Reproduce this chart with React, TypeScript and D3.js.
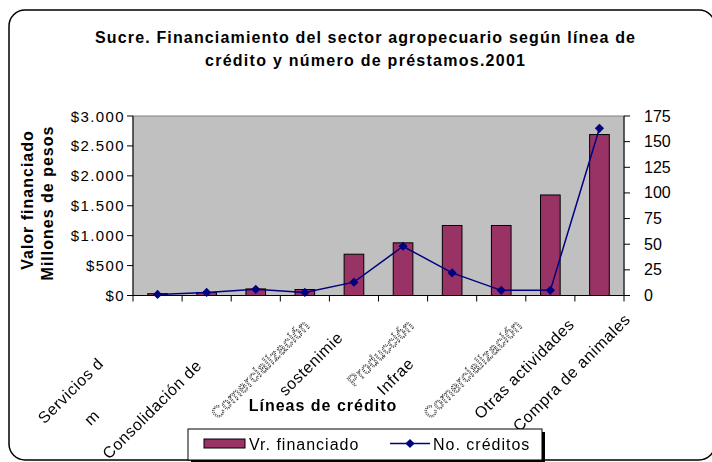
import React from "react";
import * as d3 from "d3";

// ---- data ----
const categories = [
  "Servicios de m",
  "Consolidación de",
  "Comercialización",
  "sostenimiento",
  "Producción",
  "Infraestructura",
  "Comercialización ",
  "Otras líneas",
  "Otras actividades",
  "Compra de animales",
];
const valorFinanciado = [30, 50, 110, 100, 690, 880, 1170, 1170, 1680, 2690];
const noCreditos = [1, 3, 6, 3, 13, 48, 22, 5, 5, 163];
const leftTicks = [0, 500, 1000, 1500, 2000, 2500, 3000];
const rightTicks = [0, 25, 50, 75, 100, 125, 150, 175];

const titleLines = [
  "Sucre. Financiamiento del sector agropecuario según línea de",
  "crédito y número de préstamos.2001",
];
const yTitleLines = ["Valor financiado", "Millones de pesos"];
const xTitle = "Líneas de crédito";
const legendLabels = ["Vr. financiado", "No. créditos"];

// visible (clipped / overprinted) category label fragments, as Excel drew them
const labelFragments = [
  { cat: 0, text: "Servicios d", dx: -53, dy: 69, garbled: false },
  { cat: 0, text: "m", dx: -57, dy: 121, garbled: false },
  { cat: 1, text: "Consolidación de", dx: -4, dy: 71, garbled: false },
  { cat: 2, text: "Comercialización", dx: 55, dy: 31, garbled: true },
  { cat: 3, text: "sostenimie", dx: 39, dy: 43, garbled: false },
  { cat: 4, text: "Producción", dx: 61, dy: 31, garbled: true },
  { cat: 5, text: "Infrae", dx: 12, dy: 69, garbled: false },
  { cat: 6, text: "Comercialización", dx: 71, dy: 31, garbled: true },
  { cat: 8, text: "Otras actividades", dx: 25, dy: 30, garbled: false },
  { cat: 9, text: "Compra de animales", dx: 32, dy: 25, garbled: false },
];

const FONT = "'Liberation Sans', Arial, Helvetica, sans-serif";
const BAR = "#993366";
const LINE = "#000080";

const W = 712;
const H = 462;
const plot = { left: 133, right: 624, top: 116, bottom: 295.5 };

const fmtPeso = (v: number) => "$" + d3.format(",")(v).replace(/,/g, ".");
const diamond = "M0,-4.6L4.6,0L0,4.6L-4.6,0Z";

export default function App() {
  const x = d3
    .scaleBand<number>()
    .domain(d3.range(categories.length))
    .range([plot.left, plot.right])
    .paddingInner(0)
    .paddingOuter(0);
  const step = x.step();
  const barW = step / 2.5;
  const cx = (i: number) => (x(i) as number) + step / 2;

  const yL = d3.scaleLinear().domain([0, 3000]).range([plot.bottom, plot.top]);
  const yR = d3.scaleLinear().domain([0, 175]).range([plot.bottom, plot.top]);

  const line = d3
    .line<number>()
    .x((_, i) => cx(i))
    .y((d) => yR(d));

  const boundaries = d3.range(categories.length + 1).map((i) => plot.left + i * step);

  return (
    <svg
      width={W}
      height={H}
      style={{ position: "absolute", left: 0, top: 0, background: "#fff" }}
      fontFamily={FONT}
    >
      {/* chart frame */}
      <rect x={9} y={10} width={706} height={450} rx={16} ry={16} fill="#fff" stroke="#000" strokeWidth={1.5} />

      {/* title */}
      {titleLines.map((t, i) => (
        <text
          key={i}
          x={365}
          y={42.5 + i * 23.5}
          textAnchor="middle"
          fontSize={16}
          fontWeight="bold"
          textLength={i === 0 ? 540 : 320}
          lengthAdjust="spacing"
        >
          {t}
        </text>
      ))}

      {/* plot area */}
      <rect
        x={plot.left}
        y={plot.top}
        width={plot.right - plot.left}
        height={plot.bottom - plot.top}
        fill="#C0C0C0"
        stroke="#808080"
        strokeWidth={1}
      />

      {/* bars */}
      {valorFinanciado.map((v, i) => (
        <rect
          key={i}
          x={cx(i) - barW / 2}
          y={yL(v)}
          width={barW}
          height={plot.bottom - yL(v)}
          fill={BAR}
          stroke="#000"
          strokeWidth={1}
        />
      ))}

      {/* axes */}
      <line x1={plot.left} x2={plot.left} y1={plot.top} y2={plot.bottom} stroke="#000" />
      <line x1={plot.right} x2={plot.right} y1={plot.top} y2={plot.bottom} stroke="#000" />
      <line x1={plot.left - 6} x2={plot.right + 6} y1={plot.bottom} y2={plot.bottom} stroke="#000" />
      {leftTicks.map((t) => (
        <g key={"l" + t}>
          <line x1={plot.left - 6} x2={plot.left} y1={yL(t)} y2={yL(t)} stroke="#000" />
          <text x={125} y={yL(t) + 5.5} textAnchor="end" fontSize={15} letterSpacing={1.4}>
            {fmtPeso(t)}
          </text>
        </g>
      ))}
      {rightTicks.map((t) => (
        <g key={"r" + t}>
          <line x1={plot.right} x2={plot.right + 6} y1={yR(t)} y2={yR(t)} stroke="#000" />
          <text x={644} y={yR(t) + 5.5} textAnchor="start" fontSize={16}>
            {t}
          </text>
        </g>
      ))}
      {boundaries.map((b, i) => (
        <line key={"b" + i} x1={b} x2={b} y1={plot.bottom} y2={plot.bottom + 6} stroke="#000" />
      ))}

      {/* line series */}
      <path d={line(noCreditos) || ""} fill="none" stroke={LINE} strokeWidth={1.5} />
      {noCreditos.map((v, i) => (
        <path key={"m" + i} d={diamond} transform={`translate(${cx(i)},${yR(v)})`} fill={LINE} />
      ))}

      {/* category labels */}
      <g opacity={0.99}>
        {labelFragments.map((f, k) => {
          const px = cx(f.cat) + f.dx;
          const py = plot.bottom + f.dy;
          return (
            <text
              key={"c" + k}
              transform={`translate(${px},${py}) rotate(-45)`}
              textAnchor="end"
              fontSize={16}
              letterSpacing={0.6}
              fill={f.garbled ? "#fff" : "#000"}
              stroke={f.garbled ? "#333" : "none"}
              strokeWidth={f.garbled ? 0.9 : 0}
              strokeDasharray={f.garbled ? "1.2 0.9" : undefined}
            >
              {f.text}
            </text>
          );
        })}
      </g>

      {/* axis titles */}
      {yTitleLines.map((t, i) => (
        <text
          key={"yt" + i}
          transform={`translate(${33 + i * 20},${200 + i * 3}) rotate(-90)`}
          textAnchor="middle"
          fontSize={16}
          fontWeight="bold"
          letterSpacing={1}
        >
          {t}
        </text>
      ))}
      <text x={323} y={411} textAnchor="middle" fontSize={16} fontWeight="bold" letterSpacing={1}>
        {xTitle}
      </text>

      {/* legend */}
      <rect x={191} y={432} width={354} height={31} fill="#000" />
      <rect x={188} y={429} width={354} height={31} fill="#fff" stroke="#000" strokeWidth={1} />
      <rect x={204} y={439} width={41} height={9} fill={BAR} stroke="#000" strokeWidth={1} />
      <text x={249} y={449.5} fontSize={16} letterSpacing={1}>
        {legendLabels[0]}
      </text>
      <line x1={390} x2={430} y1={443.5} y2={443.5} stroke={LINE} strokeWidth={1.5} />
      <path d={diamond} transform="translate(410,443.5)" fill={LINE} />
      <text x={433} y={449.5} fontSize={16} letterSpacing={1}>
        {legendLabels[1]}
      </text>
    </svg>
  );
}
